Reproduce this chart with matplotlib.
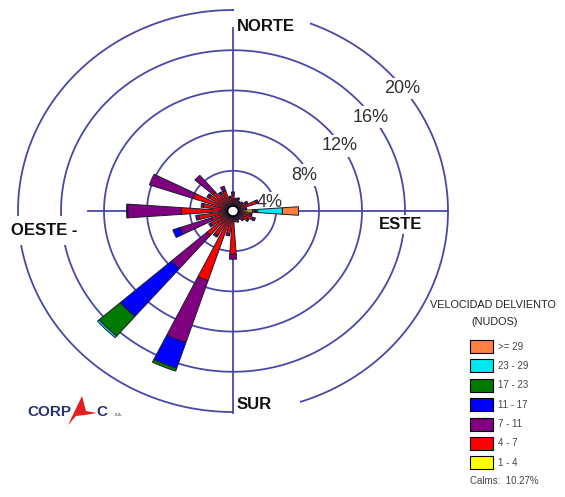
# wind rose - CORPAC style
import matplotlib
matplotlib.use('Agg')
import matplotlib.pyplot as plt
from matplotlib.patches import Polygon, Rectangle
import numpy as np

plt.rcParams['font.family'] = ['Liberation Sans', 'DejaVu Sans']

# 32 directions, degrees clockwise from north
directions = [i * 11.25 for i in range(32)]

# frequency (%) per speed class, stacked outward
s_1_4   = [0.1, 0.1, 0.1, 0.1, 0.1, 0.1, 0.1, 0.2, 1.3, 0.1, 0.1, 0.1, 0.1, 0.1, 0.4, 0.2,
           0.1, 0.1, 0.1, 0.1, 0.1, 0.1, 0.1, 0.1, 0.1, 0.1, 0.1, 0.1, 0.1, 0.1, 0.1, 0.1]
s_4_7   = [1.0, 0.5, 0.6, 0.4, 0.5, 0.8, 1.7, 0.5, 0.2, 1.0, 1.4, 1.0, 0.6, 0.3, 0.3, 0.4,
           3.7, 1.7, 6.7, 2.2, 2.6, 1.8, 1.5, 2.6, 4.2, 2.2, 3.3, 2.0, 1.9, 1.4, 1.5, 0.7]
s_7_11  = [0.3, 0.2, 0.2, 0.1, 0.1, 0.2, 0.2, 0.1, 0.1, 0.2, 0.2, 0.1, 0.1, 0.1, 0.0, 0.0,
           0.5, 0.2, 6.5, 0.2, 4.4, 0.2, 3.1, 0.3, 5.0, 0.2, 4.3, 0.2, 2.2, 0.2, 0.5, 0.2]
s_11_17 = [0, 0, 0, 0, 0, 0, 0, 0, 0.1, 0, 0, 0, 0, 0, 0, 0,
           0, 0, 2.7, 0, 6.3, 0, 0.7, 0, 0.1, 0, 0, 0, 0, 0, 0, 0]
s_17_23 = [0, 0, 0, 0, 0, 0, 0, 0, 0.1, 0, 0, 0, 0, 0, 0, 0,
           0, 0, 0.3, 0, 2.6, 0, 0, 0, 0, 0, 0, 0, 0, 0, 0, 0]
s_23_29 = [0, 0, 0, 0, 0, 0, 0, 0, 2.3, 0, 0, 0, 0, 0, 0, 0,
           0, 0, 0, 0, 0.2, 0, 0, 0, 0, 0, 0, 0, 0, 0, 0, 0]
s_29    = [0, 0, 0, 0, 0, 0, 0, 0, 1.5, 0, 0, 0, 0, 0, 0, 0,
           0, 0, 0, 0, 0, 0, 0, 0, 0, 0, 0, 0, 0, 0, 0, 0]

classes = [s_1_4, s_4_7, s_7_11, s_11_17, s_17_23, s_23_29, s_29]
class_labels = ['1 - 4', '4 - 7', '7 - 11', '11 - 17', '17 - 23', '23 - 29', '>= 29']
class_colors = ['#ffff00', '#ff0000', '#800080', '#0000ff', '#007a00', '#00e8f0', '#ff8040']

rings = [4, 8, 12, 16, 20]
calms = 10.27

W, H = 565, 497
fig = plt.figure(figsize=(W / 100, H / 100), dpi=100, facecolor='w')
ax = fig.add_axes([0, 0, 1, 1])
# ~10.75 px per % horizontally, ~10.05 px per % vertically (rose is slightly wide)
ax.set_xlim(-233 / 10.75, (W - 233) / 10.75)
ax.set_ylim((211 - H) / 10.05, 211 / 10.05)
ax.axis('off')

line_c = '#4848a8'
t = np.linspace(0, 2 * np.pi, 400)
for r in rings:
    ax.plot(r * np.sin(t), r * np.cos(t), color=line_c, lw=1.3, zorder=1)
ax.plot([-13.5, 20.0], [0, 0], color=line_c, lw=1.3, zorder=1)
ax.plot([0, 0], [-20.1, 18.2], color=line_c, lw=1.3, zorder=1)

# bars
base = 0.5
hw = np.radians(4.0)
for k, d in enumerate(directions):
    th = np.radians(d)
    r0 = base
    for vals, col in zip(classes, class_colors):
        v = vals[k]
        if v <= 0:
            continue
        r1 = r0 + v
        a = np.linspace(th - hw, th + hw, 12)
        xs = np.concatenate([r1 * np.sin(a), r0 * np.sin(a[::-1])])
        ys = np.concatenate([r1 * np.cos(a), r0 * np.cos(a[::-1])])
        ax.fill(xs, ys, facecolor=col, edgecolor='#1c1c30', lw=0.7, zorder=3)
        r0 = r1

ax.fill(base * np.sin(t), base * np.cos(t), facecolor='white', edgecolor='black', lw=1.2, zorder=4)

# ring labels
wb = dict(facecolor='white', edgecolor='none', pad=1.5)
lab_pos = [(3.44, 0.8), (6.6, 3.58), (9.95, 6.47), (12.8, 9.35), (15.7, 12.2)]
for r, (x, y) in zip(rings, lab_pos):
    ax.text(x, y, '%d%%' % r, ha='center', va='center', fontsize=13, color='#303030',
            bbox=wb, zorder=2)

# white boxes behind the cardinal labels cut the rings
ax.add_patch(Rectangle((0.05, 17.1), 7.1, 3.6, facecolor='white', edgecolor='none', zorder=1.5))
ax.add_patch(Rectangle((0.05, -21.0), 6.2, 2.6, facecolor='white', edgecolor='none', zorder=1.5))

card = dict(fontsize=12, fontweight='bold', color='#111111', zorder=2)
ax.text(0.35, 18.4, 'NORTE', ha='left', va='center', **card)
ax.text(15.6, -1.3, 'ESTE', ha='center', va='center', bbox=wb, **card)
ax.text(-17.6, -1.9, 'OESTE -', ha='center', va='center',
        bbox=dict(facecolor='white', edgecolor='none', pad=5), **card)
ax.text(0.3, -19.3, 'SUR', ha='left', va='center', **card)

# legend
def fx(px):
    return px / W

def fy(py):
    return 1 - py / H

fig.text(fx(493), fy(305), 'VELOCIDAD DELVIENTO', ha='center', va='center', fontsize=7.8, color='#222222')
fig.text(fx(495), fy(322), '(NUDOS)', ha='center', va='center', fontsize=7.8, color='#222222')
for j, (lab, col) in enumerate(zip(class_labels[::-1], class_colors[::-1])):
    ytop = 340 + j * 19.4
    fig.patches.append(Rectangle((fx(470), fy(ytop + 13)), 23 / W, 13 / H, transform=fig.transFigure,
                                 facecolor=col, edgecolor='black', lw=0.8))
    fig.text(fx(498), fy(ytop + 6.5), lab, ha='left', va='center', fontsize=7, color='#444444')
fig.text(fx(470), fy(481), 'Calms:  %.2f%%' % calms, ha='left', va='center', fontsize=7, color='#444444')

# CORPAC logo
navy = '#2b3070'
fig.text(fx(27), fy(412), 'CORP', ha='left', va='center', fontsize=11, fontweight='heavy', color=navy)
fig.patches.append(Polygon([(fx(68), fy(425)), (fx(82), fy(396)), (fx(86), fy(411)), (fx(97), fy(413)),
                            (fx(85), fy(415)), (fx(76), fy(416))], closed=True, transform=fig.transFigure,
                           facecolor='#e02020', edgecolor='none'))
fig.text(fx(96), fy(412), 'C', ha='left', va='center', fontsize=11, fontweight='heavy', color=navy)
fig.text(fx(115), fy(414), 's.a.', ha='left', va='center', fontsize=3.5, color=navy)

fig.savefig('out.png', dpi=100, facecolor='w')
